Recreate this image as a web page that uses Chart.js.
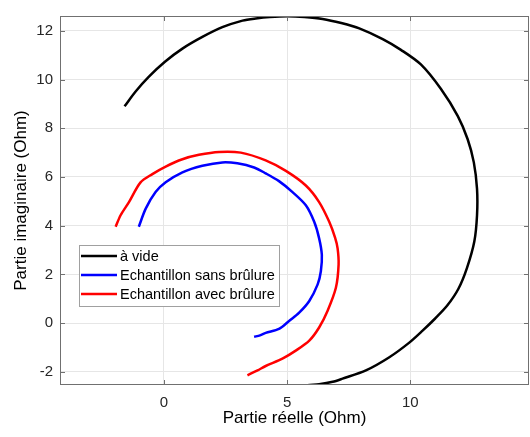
<!DOCTYPE html>
<html lang="fr">
<head>
  <meta charset="UTF-8">
  <title>Partie imaginaire vs partie réelle</title>
  <style>
    body { margin: 0; background: #fff; }
    canvas { display: block; }
  </style>
  <script src="https://cdn.jsdelivr.net/npm/chart.js"></script>
</head>
<body>
  <canvas id="nyquist" width="530" height="437"></canvas>

  <script>
    // ---- data ----
    const videX = [-1.6, -1.15, -0.61, 0.04, 0.75, 1.56, 2.37, 3.19, 3.73, 4.3, 5.02, 5.7, 6.44, 7.2, 7.93, 8.88, 9.62, 10.43, 11.24, 11.93, 12.33, 12.58, 12.71, 12.71, 12.6, 12.3, 11.95, 11.5, 11.0, 10.5, 9.96, 9.15, 8.2, 7.25, 6.85, 6.3, 5.83, 5.6];
    const videY = [8.9, 9.51, 10.12, 10.73, 11.27, 11.75, 12.15, 12.42, 12.51, 12.57, 12.6, 12.57, 12.49, 12.32, 12.1, 11.66, 11.22, 10.62, 9.62, 8.5, 7.55, 6.6, 5.51, 4.43, 3.35, 2.26, 1.4, 0.72, 0.18, -0.31, -0.8, -1.4, -1.94, -2.28, -2.41, -2.51, -2.55, -2.6];

    const sansX = [-1.02, -0.74, -0.34, 0.07, 0.75, 1.56, 2.37, 2.98, 3.66, 4.13, 4.67, 5.22, 5.76, 6.1, 6.3, 6.41, 6.37, 6.24, 5.9, 5.49, 5.08, 4.67, 4.13, 3.9, 3.66];
    const sansY = [3.96, 4.7, 5.38, 5.78, 6.19, 6.46, 6.6, 6.56, 6.39, 6.15, 5.83, 5.38, 4.84, 4.16, 3.48, 2.8, 2.13, 1.59, 0.91, 0.43, 0.09, -0.24, -0.4, -0.5, -0.56];

    const avecX = [-1.96, -1.76, -1.42, -0.95, -0.47, 0.07, 0.75, 1.42, 2.24, 3.12, 4.13, 4.95, 5.76, 6.3, 6.71, 6.95, 7.05, 7.09, 6.98, 6.64, 6.3, 5.9, 5.35, 4.81, 4.13, 3.8, 3.39];
    const avecY = [3.96, 4.43, 4.97, 5.78, 6.12, 6.43, 6.73, 6.91, 7.03, 7.0, 6.68, 6.25, 5.65, 4.97, 4.16, 3.5, 3.07, 2.4, 1.45, 0.5, -0.18, -0.72, -1.13, -1.46, -1.76, -1.94, -2.14];

    const xTicks = [0, 5, 10];
    const yTicks = [-2, 0, 2, 4, 6, 8, 10, 12];

    const pts = (xs, ys) => xs.map((x, i) => ({ x: x, y: ys[i] }));
    const frameColor = "#707070";

    // frame with inward ticks on all four sides (MATLAB "box on")
    const framePlugin = {
      id: "frame",
      afterDatasetsDraw(chart) {
        const { ctx, chartArea: a, scales } = chart;
        ctx.save();
        ctx.strokeStyle = frameColor;
        ctx.lineWidth = 1;
        ctx.strokeRect(a.left + 0.5, a.top + 0.5, a.right - a.left - 1, a.bottom - a.top - 1);
        ctx.beginPath();
        xTicks.forEach(v => {
          const px = Math.round(scales.x.getPixelForValue(v)) + 0.5;
          ctx.moveTo(px, a.bottom); ctx.lineTo(px, a.bottom - 5);
          ctx.moveTo(px, a.top); ctx.lineTo(px, a.top + 5);
        });
        yTicks.forEach(v => {
          const py = Math.round(scales.y.getPixelForValue(v)) + 0.5;
          ctx.moveTo(a.left, py); ctx.lineTo(a.left + 5, py);
          ctx.moveTo(a.right, py); ctx.lineTo(a.right - 5, py);
        });
        ctx.stroke();
        ctx.restore();
      }
    };

    // boxed legend inside the axes
    const legendPlugin = {
      id: "boxLegend",
      afterDraw(chart) {
        const ctx = chart.ctx;
        const bx = 79, by = 245, bw = 200, bh = 61;
        ctx.save();
        ctx.fillStyle = "#fff";
        ctx.fillRect(bx, by, bw, bh);
        ctx.strokeStyle = "#a0a0a0";
        ctx.lineWidth = 1;
        ctx.strokeRect(bx + 0.5, by + 0.5, bw, bh);
        ctx.font = "14.5px 'Liberation Sans', Arial, sans-serif";
        ctx.textBaseline = "middle";
        chart.data.datasets.forEach((ds, i) => {
          const y = 256 + i * 19;
          ctx.strokeStyle = ds.borderColor;
          ctx.lineWidth = 2.5;
          ctx.beginPath();
          ctx.moveTo(81, y); ctx.lineTo(117, y);
          ctx.stroke();
          ctx.fillStyle = "#000";
          ctx.fillText(ds.label, 120, y + 0.5);
        });
        ctx.restore();
      }
    };

    new Chart("nyquist", {
      type: "scatter",
      data: {
        datasets: [
          { label: "à vide", data: pts(videX, videY), borderColor: "#000000" },
          { label: "Echantillon sans brûlure", data: pts(sansX, sansY), borderColor: "#0000ff" },
          { label: "Echantillon avec brûlure", data: pts(avecX, avecY), borderColor: "#ff0000" }
        ]
      },
      options: {
        responsive: false,
        animation: false,
        layout: { padding: { top: 12, right: 1, left: 0, bottom: 0 } },
        elements: {
          line: { borderWidth: 2.5, tension: 0.3 },
          point: { radius: 0, hoverRadius: 0 }
        },
        datasets: { scatter: { showLine: true } },
        plugins: {
          legend: { display: false },
          tooltip: { enabled: false }
        },
        scales: {
          x: {
            type: "linear",
            min: -4.22, max: 14.82,
            afterBuildTicks: s => { s.ticks = xTicks.map(v => ({ value: v })); },
            afterFit: s => { s.height = 52; },
            grid: { color: "#e6e6e6", drawTicks: false },
            border: { display: false },
            ticks: {
              padding: 9,
              color: "#262626",
              font: { family: "'Liberation Sans', Arial, sans-serif", size: 15 }
            },
            title: {
              display: true,
              text: "Partie réelle (Ohm)",
              color: "#000",
              padding: { top: 0, bottom: 8 },
              font: { family: "'Liberation Sans', Arial, sans-serif", size: 17 }
            }
          },
          y: {
            type: "linear",
            min: -2.54, max: 12.61,
            afterBuildTicks: s => { s.ticks = yTicks.map(v => ({ value: v })); },
            afterFit: s => { s.width = 60; },
            grid: { color: "#e6e6e6", drawTicks: false },
            border: { display: false },
            ticks: {
              padding: 7,
              color: "#262626",
              font: { family: "'Liberation Sans', Arial, sans-serif", size: 15 }
            },
            title: {
              display: true,
              text: "Partie imaginaire (Ohm)",
              color: "#000",
              padding: { top: 11, bottom: 0 },
              font: { family: "'Liberation Sans', Arial, sans-serif", size: 17 }
            }
          }
        }
      },
      plugins: [framePlugin, legendPlugin]
    });
  </script>
</body>
</html>
